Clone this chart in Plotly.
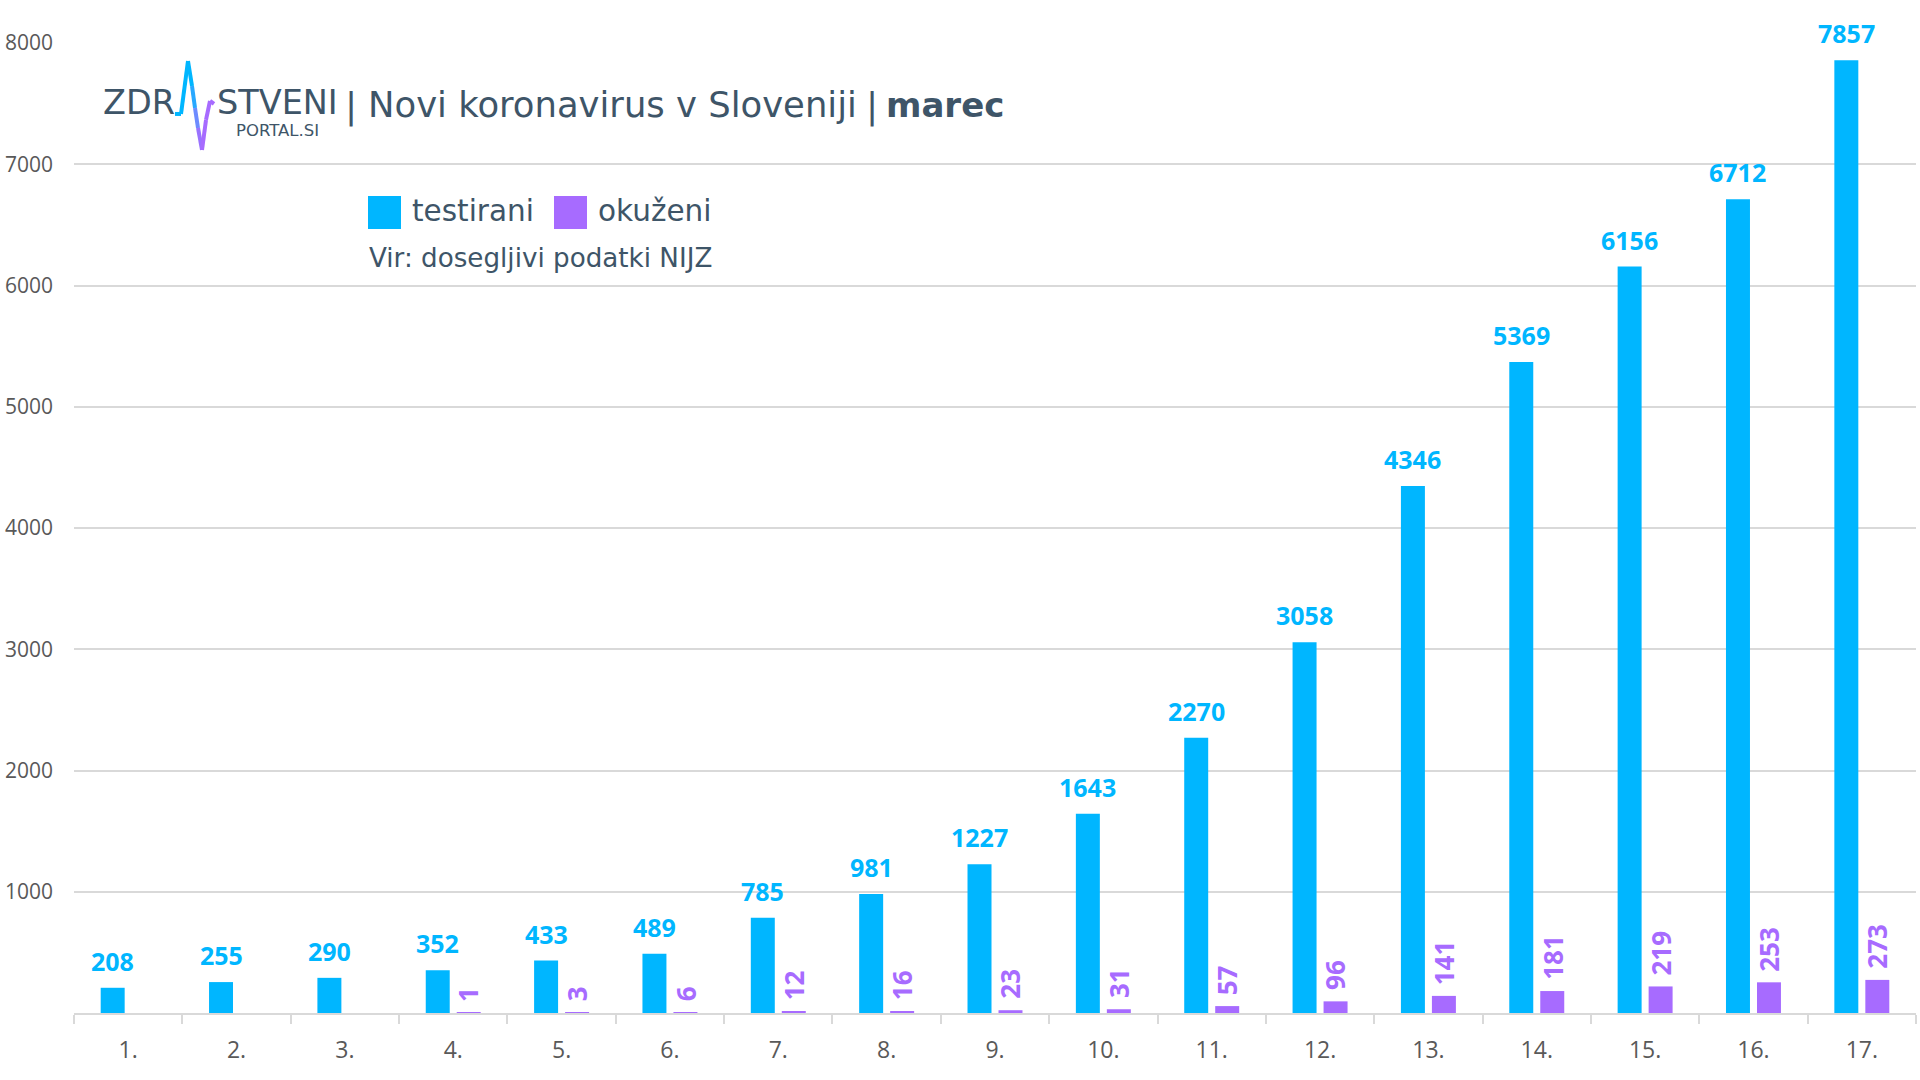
import plotly.graph_objects as go

days = ["1.", "2.", "3.", "4.", "5.", "6.", "7.", "8.", "9.", "10.", "11.", "12.", "13.", "14.", "15.", "16.", "17."]
testirani = [208, 255, 290, 352, 433, 489, 785, 981, 1227, 1643, 2270, 3058, 4346, 5369, 6156, 6712, 7857]
okuzeni = [None, None, None, 1, 3, 6, 12, 16, 23, 31, 57, 96, 141, 181, 219, 253, 273]
y_ticks = [1000, 2000, 3000, 4000, 5000, 6000, 7000, 8000]

BLUE = "#00b6ff"
PURPLE = "#a76bff"
GRID = "#d9d9d9"
DARK = "#3e5568"
LABEL_FONT = "Open Sans"
LOGO_FONT = "DejaVu Sans"

# plot area in page pixels
LEFT, RIGHT, TOP, BOTTOM = 74, 1916, 43, 1013.5


def px_x(x):
    return (x - LEFT) / (RIGHT - LEFT)


def px_y(y):
    return (BOTTOM - y) / (BOTTOM - TOP)


def add_text(fig, x, y, text, size, bold=False, color=DARK, font=LOGO_FONT):
    if bold:
        text = "<b>" + text + "</b>"
    fig.add_annotation(
        xref="paper", yref="paper", x=px_x(x), y=px_y(y), text=text, showarrow=False,
        xanchor="left", yanchor="middle", borderpad=0, borderwidth=0,
        font=dict(family=font, size=size, color=color),
    )


fig = go.Figure()
fig.add_trace(go.Bar(x=days, y=testirani, name="testirani", marker=dict(color=BLUE, line=dict(width=0))))
fig.add_trace(go.Bar(x=days, y=okuzeni, name="okuženi", marker=dict(color=PURPLE, line=dict(width=0))))

# value labels sit well above the bars (x is the category index, "1." would parse as a number)
for i, val in enumerate(testirani):
    fig.add_annotation(
        x=i, y=val, text="<b>%d</b>" % val, showarrow=False, xshift=-15.5, yshift=8,
        yanchor="bottom", font=dict(family=LABEL_FONT, size=25, color=BLUE),
    )
for i, val in enumerate(okuzeni):
    if val is None:
        continue
    fig.add_annotation(
        x=i, y=val, text="<b>%d</b>" % val, showarrow=False, xshift=15.5, yshift=9,
        yanchor="bottom", textangle=-90, font=dict(family=LABEL_FONT, size=26, color=PURPLE),
    )

# logo and heading
add_text(fig, 103, 103, "ZDR", 33.5)
add_text(fig, 217, 103, "STVENI", 33.5)
add_text(fig, 236, 131, "PORTAL.SI", 16.5)
add_text(fig, 345, 106, "|", 36)
add_text(fig, 368, 105, "Novi koronavirus v Sloveniji", 35.4)
add_text(fig, 866, 106, "|", 36)
add_text(fig, 886, 105, "marec", 34, bold=True)

pulse = [
    (175, 114, "#00b6ff"), (181, 114, "#00b6ff"), (188, 61, "#00b6ff"),
    (192, 86, "#28a8ff"), (195, 108, "#6d8bff"), (198, 128, "#9a72ff"),
    (202, 150, "#a76bff"), (206, 120, "#a76bff"), (210, 101, "#a76bff"), (214, 104, "#a76bff"),
]
for (x0, y0, c), (x1, y1, _) in zip(pulse[:-1], pulse[1:]):
    fig.add_shape(
        type="line", xref="paper", yref="paper", x0=px_x(x0), y0=px_y(y0), x1=px_x(x1), y1=px_y(y1),
        line=dict(color=c, width=4),
    )

# legend block
for x0, c in [(368, BLUE), (554, PURPLE)]:
    fig.add_shape(
        type="rect", xref="paper", yref="paper", x0=px_x(x0), x1=px_x(x0 + 33), y0=px_y(229), y1=px_y(196),
        fillcolor=c, line=dict(width=0),
    )
add_text(fig, 412, 211, "testirani", 29.5)
add_text(fig, 598, 211, "okuženi", 29.5)
add_text(fig, 369, 258, "Vir: dosegljivi podatki NIJZ", 26.2)

fig.update_layout(
    width=1920, height=1080, paper_bgcolor="white", plot_bgcolor="white",
    margin=dict(l=LEFT, r=1920 - RIGHT, t=TOP, b=1080 - BOTTOM),
    barmode="group", bargap=0.428, bargroupgap=0.226, showlegend=False,
)
fig.update_xaxes(
    type="category", categoryorder="array", categoryarray=days, range=[-0.5, 16.5],
    tickson="boundaries", ticks="outside", ticklen=9, tickwidth=2, tickcolor=GRID,
    showline=True, linecolor=GRID, linewidth=2, showgrid=False, layer="above traces",
    tickfont=dict(family=LABEL_FONT, size=23, color="#595959"), ticklabelstandoff=15,
)
fig.update_yaxes(
    range=[0, 8000], tickvals=y_ticks, showgrid=True, gridcolor=GRID, gridwidth=2, zeroline=False,
    showline=False, ticks="", tickfont=dict(family=LABEL_FONT, size=21, color="#595959"),
    ticklabelstandoff=20,
)

# page margin off so the figure fills the window
fig.write_html("out.html", config=dict(displayModeBar=False), post_script="document.body.style.margin='0';")
